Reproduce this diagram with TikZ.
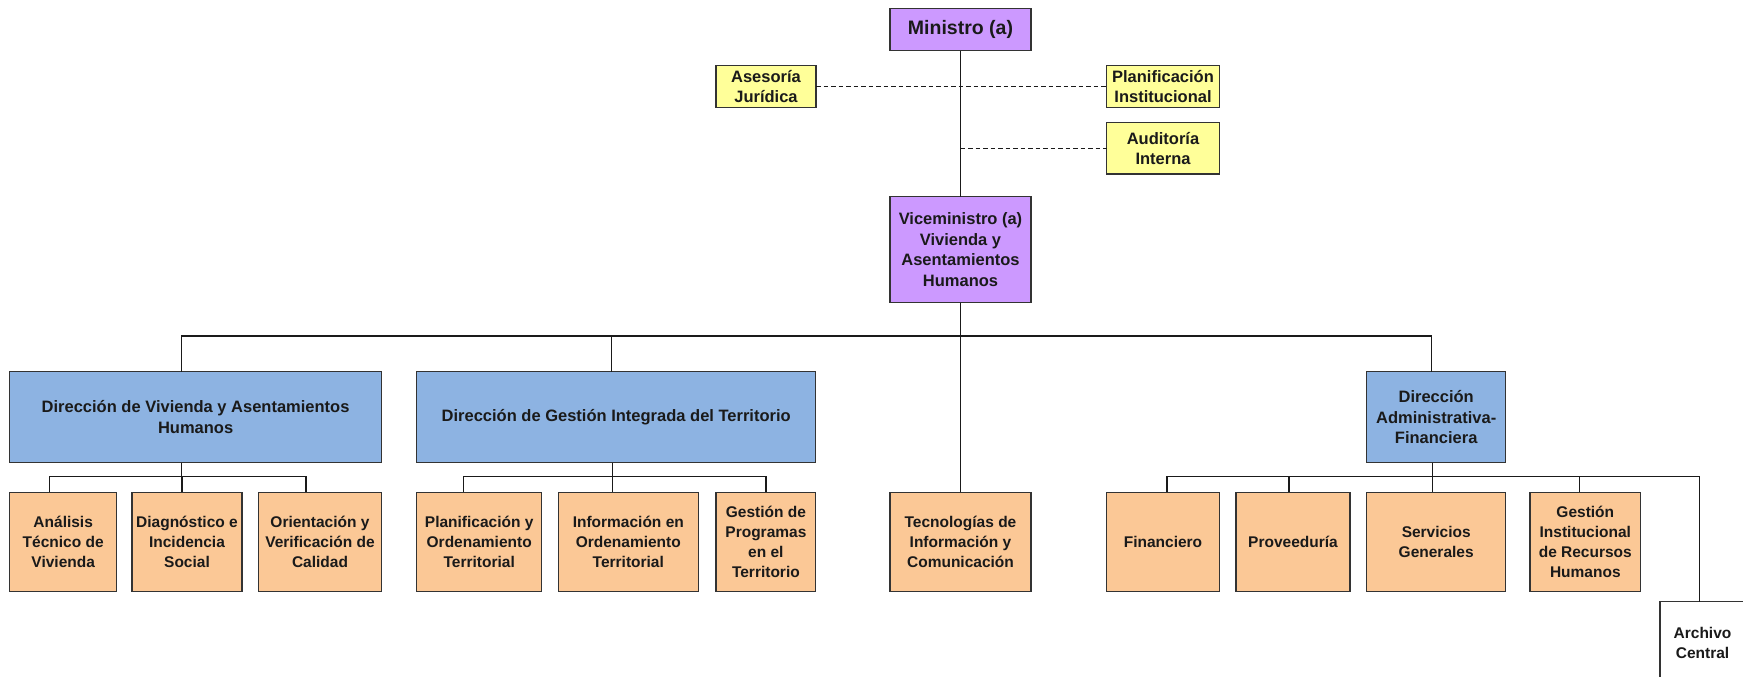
\documentclass[tikz,border=0pt]{standalone}
\usepackage{fontspec}
\setmainfont{Liberation Sans}
\definecolor{ccc99ff}{RGB}{204,153,255}
\definecolor{cffff99}{RGB}{255,255,153}
\definecolor{c8db3e2}{RGB}{141,179,226}
\definecolor{cfbc896}{RGB}{251,200,150}
\definecolor{c333333}{RGB}{51,51,51}
\definecolor{c1a1a1a}{RGB}{26,26,26}
\def \globalscale {1.000000}
\tikzset{
  unidad/.style={draw=c333333, line width=1.2pt, text=c1a1a1a, align=center, font=\bfseries\fontsize{16.5}{20.5}\selectfont},
  despacho/.style={unidad, fill=ccc99ff},
  asesor/.style={unidad, fill=cffff99},
  direccion/.style={unidad, fill=c8db3e2, minimum height=91pt},
  depto/.style={unidad, fill=cfbc896, minimum height=99.4pt, font=\bfseries\fontsize{15.5}{20}\selectfont},
  linea/.style={draw=c1a1a1a, line width=1.3pt},
  enlace/.style={linea, dash pattern=on 4.5pt off 3pt},
}

\begin{document}
\begin{tikzpicture}[y=1pt, x=1pt, yscale=\globalscale,xscale=\globalscale, every node/.append style={scale=\globalscale}, inner sep=0pt, outer sep=0pt]
  \clip (0,0) rectangle (1743,677);


  \node[despacho,minimum width=141pt,minimum height=42.4pt,font=\bfseries\fontsize{19.5}{23}\selectfont] (min) at (960.5, 647.5){Ministro (a)};


  \node[asesor,minimum width=100pt,minimum height=42pt] (ase) at (766, 590.3){Asesoría\\Jurídica};


  \node[asesor,minimum width=113pt,minimum height=42pt] (pla) at (1163, 590.3){Planificación\\Institucional};


  \node[asesor,minimum width=113pt,minimum height=51.3pt] (aud) at (1163, 528.6){Auditoría\\Interna};


  \node[despacho,minimum width=141pt,minimum height=106pt] (vic) at (960.5, 427.3){Viceministro (a)\\Vivienda y\\Asentamientos\\Humanos};


  \node[direccion,minimum width=372pt] (dvah) at (195.6, 259.8){Dirección de Vivienda y Asentamientos\\Humanos};


  \node[direccion,minimum width=399pt] (dgit) at (616.2, 259.8){Dirección de Gestión Integrada del Territorio};


  \node[direccion,minimum width=139pt] (daf) at (1436.2, 259.8){Dirección\\Administrativa-\\Financiera};


  \node[depto,minimum width=107pt] (ana) at (63.2, 135){Análisis\\Técnico de\\Vivienda};


  \node[depto,minimum width=110pt] (dia) at (187, 135){Diagnóstico e\\Incidencia\\Social};


  \node[depto,minimum width=123.3pt] (ori) at (320, 135){Orientación y\\Verificación de\\Calidad};


  \node[depto,minimum width=125pt] (pot) at (479.2, 135){Planificación y\\Ordenamiento\\Territorial};


  \node[depto,minimum width=140pt] (iot) at (628.3, 135){Información en\\Ordenamiento\\Territorial};


  \node[depto,minimum width=99.7pt] (gpt) at (765.9, 135){Gestión de\\Programas\\en el\\Territorio};


  \node[depto,minimum width=141pt] (tic) at (960.5, 135){Tecnologías de\\Información y\\Comunicación};


  \node[depto,minimum width=112.6pt] (fin) at (1163, 135){Financiero};


  \node[depto,minimum width=114pt] (pro) at (1293, 135){Proveeduría};


  \node[depto,minimum width=139pt] (ser) at (1436.2, 135){Servicios\\Generales};


  \node[depto,minimum width=110.7pt] (gir) at (1585.3, 135){Gestión\\Institucional\\de Recursos\\Humanos};


  \node[depto,fill=white,minimum width=85pt,minimum height=83.3pt] (arc) at (1702.5, 33.7){Archivo\\Central};


  \path[linea] (min) -- (vic);


  \path[enlace] (ase) -- (pla);


  \path[enlace] (min.south |- aud.west) -- (aud);


  \path[linea] (vic.south) -- ++(0,-33.3) -| ([xshift=-14pt]dvah.north);


  \path[linea] (vic.south) -- ++(0,-33.3) -| ([xshift=-5pt]dgit.north);


  \path[linea] (vic.south) -- ++(0,-33.3) -| ([xshift=-5pt]daf.north);


  \path[linea] (vic) -- (tic);


  \path[linea] ([xshift=-14pt]dvah.south) -- ++(0,-14) -| ([xshift=-14pt]ana.north);


  \path[linea] ([xshift=-14pt]dvah.south) -- ++(0,-14) -| ([xshift=-5pt]dia.north);


  \path[linea] ([xshift=-14pt]dvah.south) -- ++(0,-14) -| ([xshift=-14pt]ori.north);


  \path[linea] ([xshift=-4pt]dgit.south) -- ++(0,-14) -| ([xshift=-16pt]pot.north);


  \path[linea] ([xshift=-4pt]dgit.south) -- ++(0,-14) -| ([xshift=-16pt]iot.north);


  \path[linea] ([xshift=-4pt]dgit.south) -- ++(0,-14) -| (gpt.north);


  \path[linea] ([xshift=-4pt]daf.south) -- ++(0,-14) -| ([xshift=4pt]fin.north);


  \path[linea] ([xshift=-4pt]daf.south) -- ++(0,-14) -| ([xshift=-4pt]pro.north);


  \path[linea] ([xshift=-4pt]daf.south) -- ++(0,-14) -| ([xshift=-4pt]ser.north);


  \path[linea] ([xshift=-4pt]daf.south) -- ++(0,-14) -| ([xshift=-6pt]gir.north);


  \path[linea] ([xshift=-4pt]daf.south) -- ++(0,-14) -| ([xshift=-3.2pt]arc.north);


\end{tikzpicture}
\end{document}
